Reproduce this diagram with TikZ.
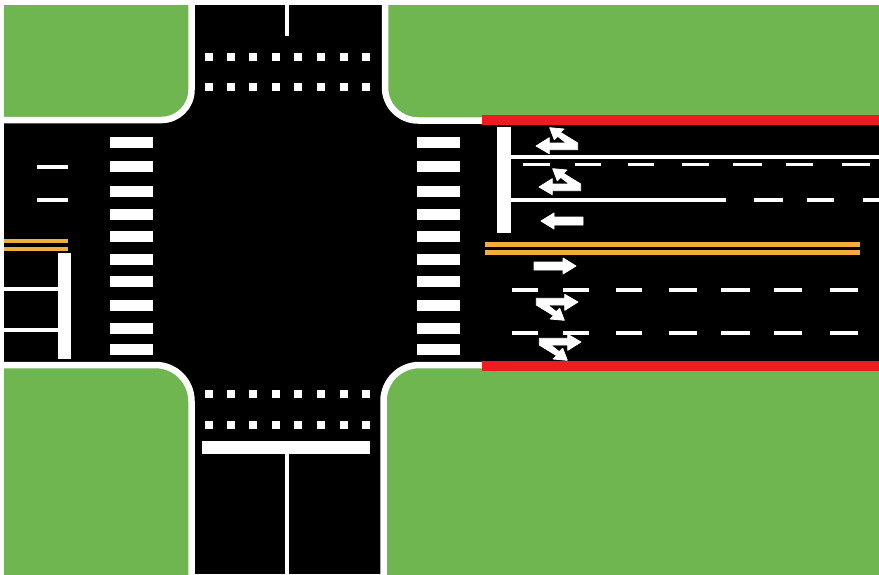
\documentclass[tikz,border=0pt]{standalone}
\usepackage{xcolor}
\definecolor{mygrass}{RGB}{112,182,80}
\definecolor{myred}{RGB}{236,28,36}
\definecolor{myyellow}{RGB}{240,175,60}
\begin{document}
\begin{tikzpicture}[
  x=1pt, y=-1pt,
  grass/.style={fill=mygrass, draw=white, line width=6.5pt},
  paint/.style={fill=white, draw=none},
  lane/.style={draw=white, line width=3.5pt},
  yline/.style={draw=myyellow, line width=4.5pt},
  arrowfill/.style={fill=white, draw=white, line width=0.8pt, line join=round},
  straightarrow/.pic={
    \path[arrowfill] (0,0) -- (13,-8) -- (13,-4) -- (42,-4) -- (42,4) -- (13,4) -- (13,8) -- cycle;
  },
  turnarrow/.pic={
    \path[arrowfill] (0,0) -- (13.3,-8.3) -- (13.3,-3) -- (30.3,-3) -- (21.7,-9.7) -- (18.3,-6.3)
      -- (13.7,-18.3) -- (28,-17) -- (24.3,-13.7) -- (41.7,-3) -- (41.7,3.7) -- (13.3,3.7)
      -- (13.3,7.7) -- cycle;
  }
]
\useasboundingbox (0,0) rectangle (879,574);
\fill[black] (4,5) rectangle (879,574);

\begin{scope}
  \clip (4,5) rectangle (879,574);
  \path[grass, rounded corners=30pt] (-40,-40) -- (191.5,-40) -- (191.5,120) -- (-40,120) -- cycle;
  \path[grass, rounded corners=33pt] (385,-40) -- (920,-40) -- (920,120.5) -- (385,120.5) -- cycle;
  \path[grass, rounded corners=36pt] (-40,365) -- (191.5,365) -- (191.5,620) -- (-40,620) -- cycle;
  \path[grass, rounded corners=36pt] (383.5,365) -- (920,365) -- (920,620) -- (383.5,620) -- cycle;
\end{scope}

\fill[myred] (482,115) rectangle (879,125);
\fill[myred] (482,361) rectangle (879,371);

\foreach \y in {137,161,186,209,231,254,276,300,323,344} {
  \fill[paint] (110,\y) rectangle (153,\y+10.5);
  \fill[paint] (417,\y) rectangle (460,\y+10.5);
}

\foreach \x in {209,231,253,276,298,321,344,366} {
  \foreach \y in {57,87,394,425} {
    \fill[paint] (\x-4,\y-4) rectangle (\x+4,\y+4);
  }
}

\draw[lane, line width=4pt] (287,5) -- (287,36);
\fill[paint] (202,441) rectangle (370,454);
\draw[lane, line width=4pt] (287,454) -- (287,574);

\draw[lane] (37,167) -- (68,167);
\draw[lane] (37,200) -- (68,200);
\draw[yline] (4,240.8) -- (68,240.8);
\draw[yline] (4,248.8) -- (68,248.8);
\fill[paint] (58,253) rectangle (71,359);
\draw[lane] (4,289) -- (58,289);
\draw[lane] (4,330) -- (58,330);

\fill[paint] (497,127) rectangle (511,233);
\draw[lane, line width=4pt] (511,156.5) -- (879,156.5);
\draw[lane, line width=4pt] (511,200) -- (726,200);
\foreach \x/\w in {523/27,575/26,628/26,682/27,733/29,786/27,842/28} {
  \draw[lane] (\x,164.5) -- (\x+\w,164.5);
}
\foreach \x/\w in {754/29,807/27,863/16} {
  \draw[lane] (\x,200) -- (\x+\w,200);
}
\draw[yline] (485,244.5) -- (860,244.5);
\draw[yline] (485,252.5) -- (860,252.5);
\foreach \x/\w in {512/26,563/26,616/26,669/28,721/29,774/28,830/28} {
  \draw[lane] (\x,290) -- (\x+\w,290);
  \draw[lane] (\x,333) -- (\x+\w,333);
}

\pic at (536,146) {turnarrow};
\pic at (539,187) {turnarrow};
\pic at (541,221) {straightarrow};
\pic[rotate=180] at (576,266) {straightarrow};
\pic[rotate=180] at (578,302) {turnarrow};
\pic[rotate=180] at (581,342) {turnarrow};
\end{tikzpicture}
\end{document}
